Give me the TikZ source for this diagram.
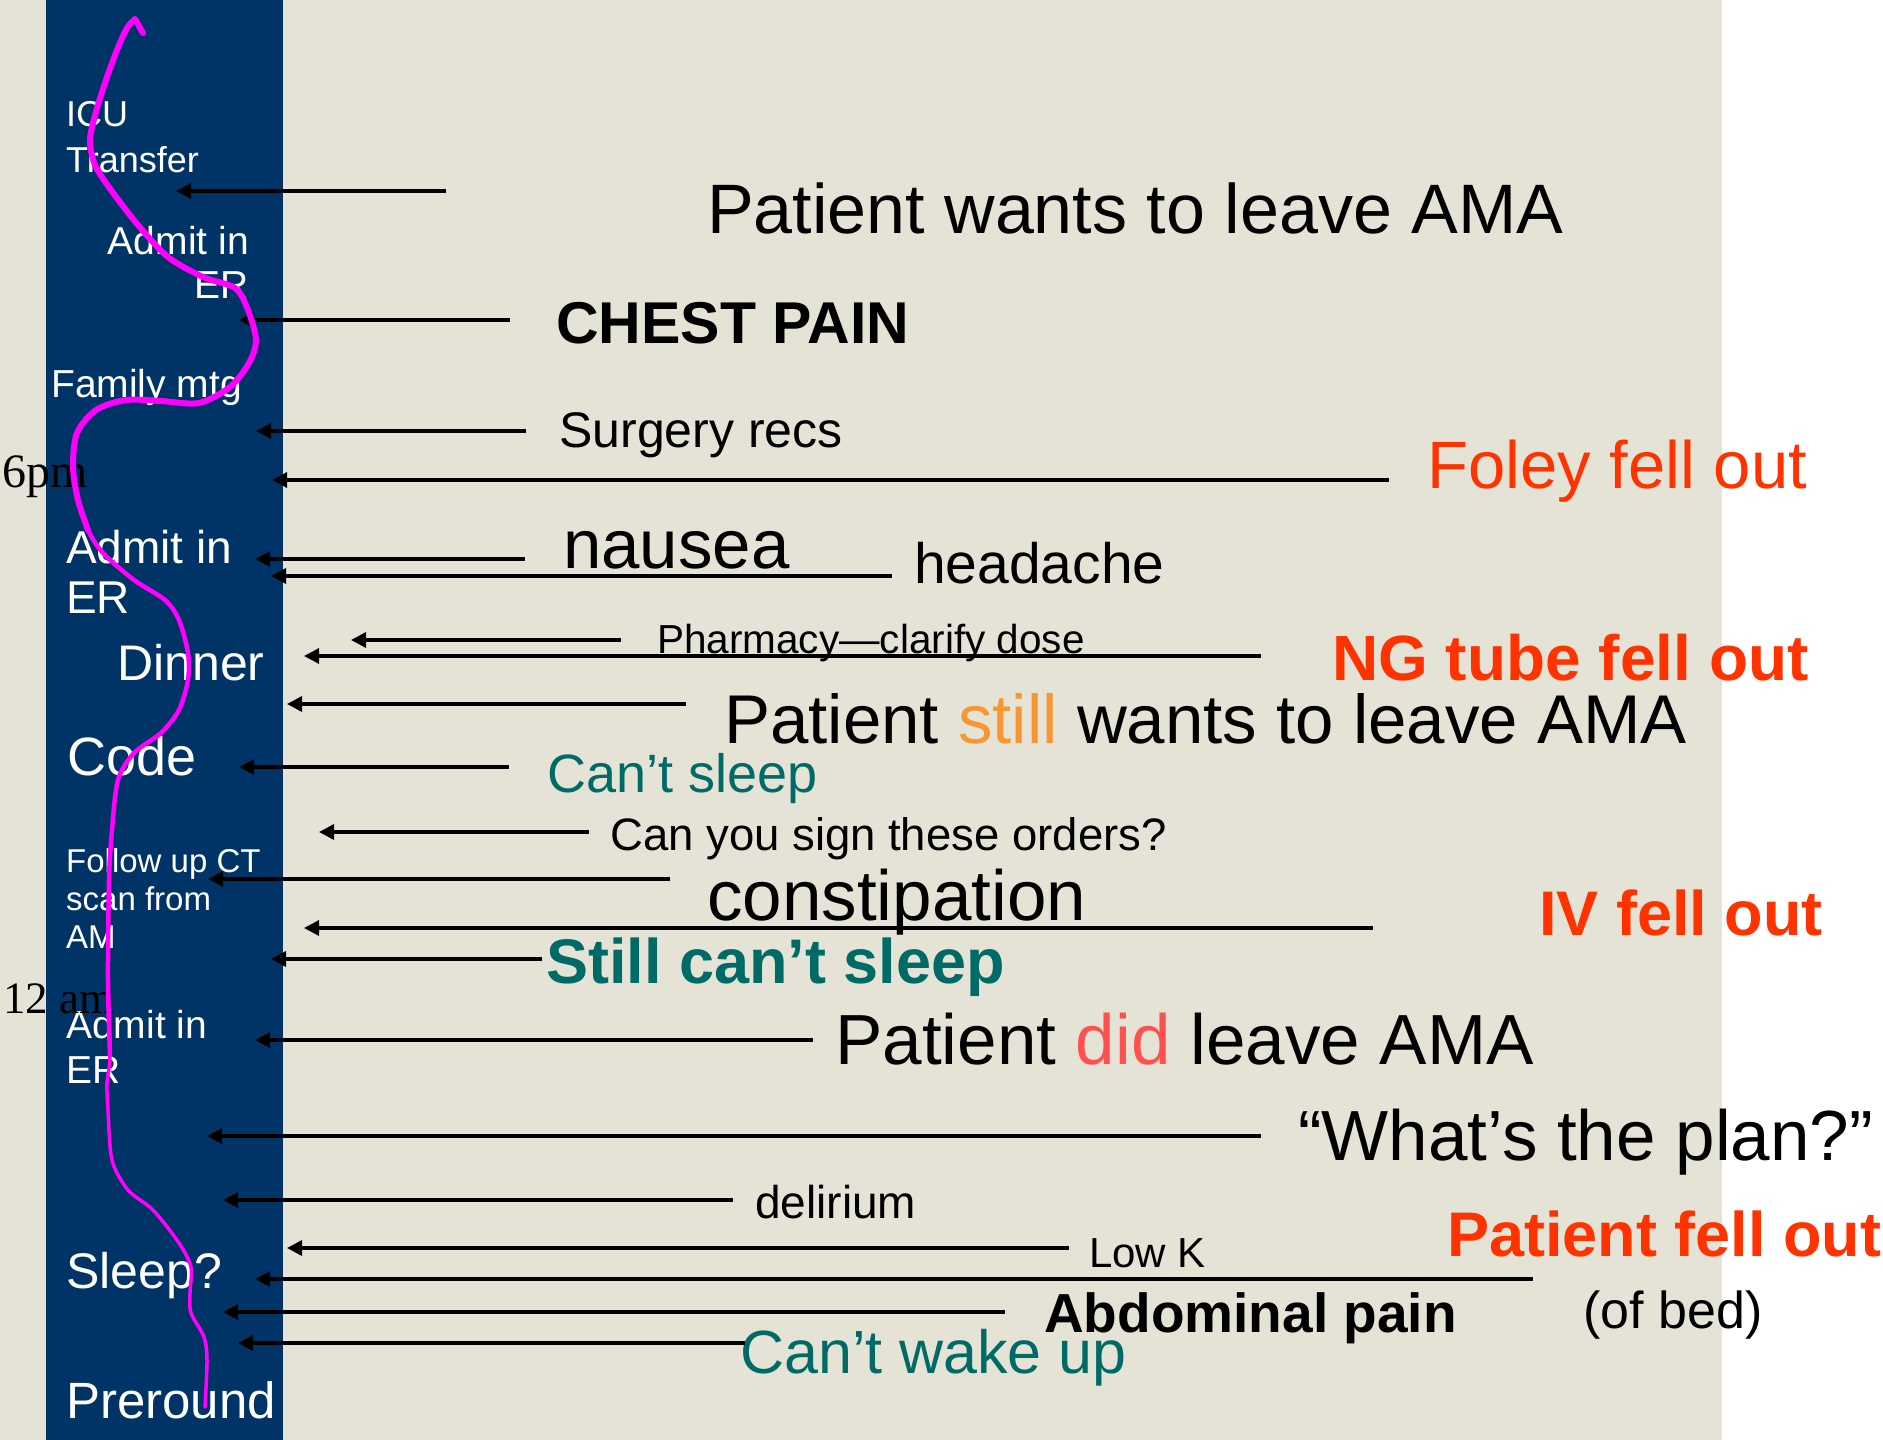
\documentclass[tikz,border=0pt]{standalone}
\usepackage{fontspec}
\setmainfont{Liberation Sans}
\newfontfamily\timesfont{Liberation Serif}
\usetikzlibrary{arrows.meta}
\definecolor{navy}{RGB}{0,51,102}
\definecolor{paper}{RGB}{229,227,213}
\definecolor{alarm}{RGB}{255,51,0}
\definecolor{calm}{RGB}{0,107,102}
\definecolor{stillorange}{RGB}{247,150,50}
\definecolor{didred}{RGB}{255,80,80}
\definecolor{pen}{RGB}{255,0,255}
\newcommand{\fsz}[2]{\fontsize{#1}{#2}\selectfont}
\tikzstyle{slot} = [text=white, inner sep=0pt, align=left, anchor=base west]
\tikzstyle{clock} = [text=black, inner sep=0pt, anchor=base west]
\tikzstyle{note} = [text=black, inner sep=0pt, anchor=base west]
\tikzstyle{arrow} = [line width=3.2pt, -{Triangle[length=15pt,width=15pt]}]
\tikzstyle{squiggle} = [pen, line cap=round, line join=round]

\begin{document}
\begin{tikzpicture}[x=1pt, y=-1pt]
      \useasboundingbox (0,0) rectangle (1883,1440);
      \fill [paper] (0,0) rectangle (1722,1440);
      \fill [white] (1722,0) rectangle (1883,1440);
      \fill [navy] (46,0) rectangle (283,1440);
      % timeline labels in the column (base = last line)
      \node (icu)[slot, font=\fsz{36}{46}] at (66,172) {ICU\\Transfer};
      \node (er1)[slot, align=right, anchor=base east, font=\fsz{39}{44}] at (249,298) {Admit in\\ER};
      \node (fam)[slot, font=\fsz{39}{46}] at (51,397) {Family mtg};
      \node (er2)[slot, font=\fsz{46}{50}] at (66,613) {Admit in\\ER};
      \node (din)[slot, font=\fsz{50}{56}] at (117,680) {Dinner};
      \node (code)[slot, font=\fsz{54}{58}] at (67,775) {Code};
      \node (ct)[slot, font=\fsz{33}{38}] at (66,948) {Follow up CT\\scan from\\AM};
      \node (er3)[slot, font=\fsz{39}{45}] at (66,1083) {Admit in\\ER};
      \node (slp)[slot, font=\fsz{50}{56}] at (66,1288) {Sleep?};
      \node (pre)[slot, font=\fsz{51}{56}] at (66,1418) {Preround};
      \node (six)[clock, font={\timesfont\fsz{48}{56}}] at (2,487) {6pm};
      \node (twelve)[clock, font={\timesfont\fsz{45}{52}}] at (3,1013) {12 am};
      % events
      \node (ama1)[note, font=\fsz{70}{80}] at (707,233) {Patient wants to leave AMA};
      \node (chest)[note, font=\bfseries\fsz{59}{66}] at (556,343) {CHEST PAIN};
      \node (surg)[note, font=\fsz{50}{56}] at (559,447) {Surgery recs};
      \node (foley)[note, text=alarm, font=\fsz{67}{78}] at (1427,488) {Foley fell out};
      \node (naus)[note, font=\fsz{69}{80}] at (563,568) {nausea};
      \node (head)[note, font=\fsz{57}{62}] at (914,583) {headache};
      \node (pharm)[note, font=\fsz{40.5}{46}] at (657,653) {Pharmacy—clarify dose};
      \node (ng)[note, text=alarm, font=\bfseries\fsz{64}{74}] at (1332,680) {NG tube fell out};
      \node (ama2)[note, font=\fsz{69}{80}] at (724,743) {Patient \textcolor{stillorange}{still} wants to leave AMA};
      \node (nosleep)[note, text=calm, font=\fsz{54}{60}] at (547,792) {Can’t sleep};
      \node (sign)[note, font=\fsz{45.5}{52}] at (610,850) {Can you sign these orders?};
      \node (const)[note, font=\fsz{71}{80}] at (707,920) {constipation};
      \node (iv)[note, text=alarm, font=\bfseries\fsz{63}{72}] at (1539,935) {IV fell out};
      \node (nosleep2)[note, text=calm, font=\bfseries\fsz{63}{70}] at (546,983) {Still can’t sleep};
      \node (ama3)[note, font=\fsz{71}{80}] at (835,1064) {Patient \textcolor{didred}{did} leave AMA};
      \node (plan)[note, font=\fsz{71}{82}] at (1298,1160) {“What’s the plan?”};
      \node (delir)[note, font=\fsz{46}{54}] at (755,1218) {delirium};
      \node (lowk)[note, font=\fsz{42}{48}] at (1089,1267) {Low K};
      \node (fell)[note, text=alarm, font=\bfseries\fsz{63}{72}] at (1447,1256) {Patient fell out};
      \node (abd)[note, font=\bfseries\fsz{55}{64}] at (1044,1332) {Abdominal pain};
      \node (bed)[note, font=\fsz{52}{60}] at (1583,1328) {(of bed)};
      \node (wake)[note, text=calm, font=\fsz{61}{66}] at (740,1373) {Can’t wake up};
      % arrow ends
      \coordinate (a1) at (446,191);   \coordinate (b1) at (176,191);
      \coordinate (a2) at (510,320);   \coordinate (b2) at (239,320);
      \coordinate (a3) at (526,431);   \coordinate (b3) at (256,431);
      \coordinate (a4) at (1389,480);  \coordinate (b4) at (272,480);
      \coordinate (a5) at (525,559);   \coordinate (b5) at (255,559);
      \coordinate (a6) at (892,576);   \coordinate (b6) at (271,576);
      \coordinate (a7) at (621,640);   \coordinate (b7) at (351,640);
      \coordinate (a8) at (1261,656);  \coordinate (b8) at (304,656);
      \coordinate (a9) at (686,704);   \coordinate (b9) at (287,704);
      \coordinate (a10) at (509,767);  \coordinate (b10) at (239,767);
      \coordinate (a11) at (589,832);  \coordinate (b11) at (319,832);
      \coordinate (a12) at (670,879);  \coordinate (b12) at (208,879);
      \coordinate (a13) at (1373,928); \coordinate (b13) at (304,928);
      \coordinate (a14) at (542,959);  \coordinate (b14) at (271,959);
      \coordinate (a15) at (813,1040); \coordinate (b15) at (255,1040);
      \coordinate (a16) at (1261,1136); \coordinate (b16) at (207,1136);
      \coordinate (a17) at (733,1200); \coordinate (b17) at (223,1200);
      \coordinate (a18) at (1069,1248); \coordinate (b18) at (287,1248);
      \coordinate (a19) at (1533,1279); \coordinate (b19) at (255,1279);
      \coordinate (a20) at (1005,1312); \coordinate (b20) at (223,1312);
      \coordinate (a21) at (745,1343); \coordinate (b21) at (238,1343);
      \draw [arrow](a1)--(b1);
      \draw [arrow](a2)--(b2);
      \draw [arrow](a3)--(b3);
      \draw [arrow](a4)--(b4);
      \draw [arrow](a5)--(b5);
      \draw [arrow](a6)--(b6);
      \draw [arrow](a7)--(b7);
      \draw [arrow](a8)--(b8);
      \draw [arrow](a9)--(b9);
      \draw [arrow](a10)--(b10);
      \draw [arrow](a11)--(b11);
      \draw [arrow](a12)--(b12);
      \draw [arrow](a13)--(b13);
      \draw [arrow](a14)--(b14);
      \draw [arrow](a15)--(b15);
      \draw [arrow](a16)--(b16);
      \draw [arrow](a17)--(b17);
      \draw [arrow](a18)--(b18);
      \draw [arrow](a19)--(b19);
      \draw [arrow](a20)--(b20);
      \draw [arrow](a21)--(b21);
      % hand-drawn course
      \draw [squiggle, line width=6pt] (143,33) -- plot [smooth] coordinates {(135,19) (127,28) (117,50) (106,80) (96,112) (90,140) (95,165) (111,190) (138,225) (168,257) (203,277) (235,288) (248,310) (256,340) (249,363) (230,387) (199,403) (161,401) (126,400) (96,410) (77,433) (73,467) (78,500) (88,530)};
      \draw [squiggle, line width=4.5pt] plot [smooth] coordinates {(78,500) (88,530) (103,553) (134,580) (165,600) (179,620) (188,653) (188,680) (179,710) (161,733) (134,753) (118,780) (112,830) (109,880) (108,980) (110,1055)};
      \draw [squiggle, line width=3.5pt] plot [smooth] coordinates {(108,980) (110,1055) (107,1083) (108,1110) (112,1160) (128,1190) (153,1210) (179,1243) (191,1267) (190,1293) (191,1313) (204,1337) (207,1360) (205,1407)};
    \end{tikzpicture}
\end{document}
